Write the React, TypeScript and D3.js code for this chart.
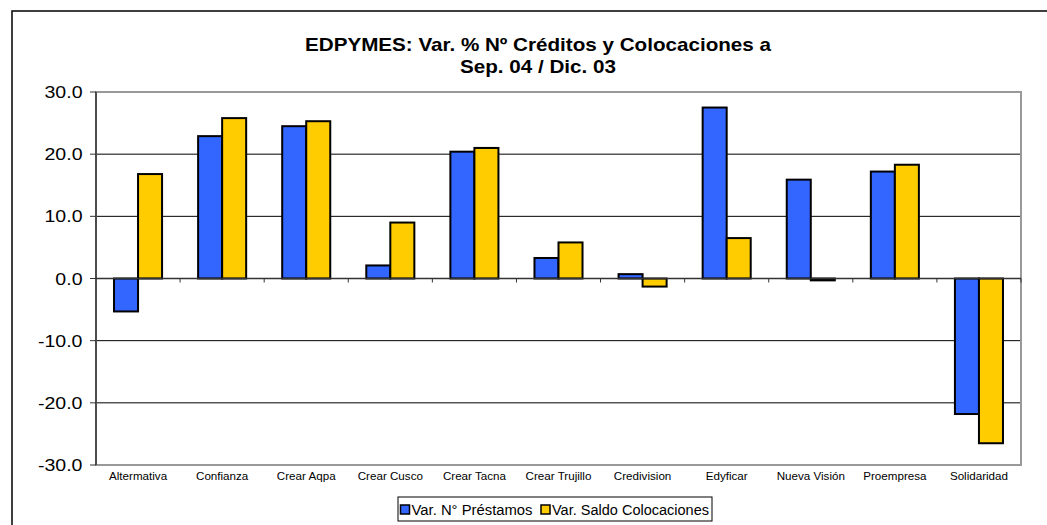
import React from "react";
import * as d3 from "d3";

const categories = ["Altermativa", "Confianza", "Crear Aqpa", "Crear Cusco", "Crear Tacna", "Crear Trujillo", "Credivision", "Edyficar", "Nueva Visión", "Proempresa", "Solidaridad"];
const prestamos = [-5.3, 22.9, 24.5, 2.1, 20.4, 3.3, 0.7, 27.5, 15.9, 17.2, -21.8];
const colocaciones = [16.8, 25.8, 25.3, 9.0, 21.0, 5.8, -1.3, 6.5, -0.3, 18.3, -26.5];
const yTicks = [30, 20, 10, 0, -10, -20, -30];
const seriesNames = ["Var. N° Préstamos", "Var. Saldo Colocaciones"];
const seriesColors = ["#3366FF", "#FFCC00"];
const titleLines = ["EDPYMES: Var. % Nº Créditos y Colocaciones a", "Sep. 04 / Dic. 03"];

const W = 1047, H = 525;
const plot = { left: 96, right: 1021, top: 92, bottom: 465 };
const FONT = "'Liberation Sans', Arial, Helvetica, sans-serif";

export default function App() {
  const x = d3.scaleBand<string>().domain(categories).range([plot.left, plot.right]).paddingInner(0).paddingOuter(0);
  const y = d3.scaleLinear().domain([-30, 30]).range([plot.bottom, plot.top]);
  const bw = x.bandwidth();
  const barW = bw / 3.5;
  const series = [prestamos, colocaciones];
  const y0 = y(0);
  const titleW = [466, 156];
  const legendTextW = [121, 157];

  return (
    <svg width={W} height={H} style={{ position: "absolute", left: 0, top: 0, background: "#fff" }} fontFamily={FONT}>
      <rect x={0} y={0} width={W} height={H} fill="#fff" />
      <rect x={12} y={11} width={W + 20} height={H + 20} fill="none" stroke="#000" strokeWidth={1.5} />
      {titleLines.map((t, i) => (
        <text key={i} x={538 - titleW[i] / 2} y={51 + i * 22} textLength={titleW[i]} lengthAdjust="spacingAndGlyphs" fontWeight="bold" fontSize={18.5} fill="#000">{t}</text>
      ))}
      {/* gridlines */}
      {yTicks.filter(v => v !== 30 && v !== -30 && v !== 0).map(v => (
        <line key={v} x1={plot.left} x2={plot.right} y1={y(v)} y2={y(v)} stroke="#000" strokeWidth={1} />
      ))}
      {/* plot frame */}
      <rect x={plot.left} y={plot.top} width={plot.right - plot.left} height={plot.bottom - plot.top} fill="none" stroke="#999" strokeWidth={2} />
      {/* bars */}
      {categories.map((c, i) => (
        <g key={c}>
          {series.map((s, k) => {
            const v = s[i];
            const bx = (x(c) as number) + bw / 2 - barW + k * barW;
            const top = Math.min(y(v), y0);
            const h = Math.max(Math.abs(y(v) - y0), 1);
            return <rect key={k} x={bx} y={top} width={barW} height={h} fill={seriesColors[k]} stroke="#000" strokeWidth={2} />;
          })}
        </g>
      ))}
      {/* left axis */}
      <line x1={plot.left} x2={plot.left} y1={plot.top} y2={plot.bottom} stroke="#333" strokeWidth={1.5} />
      {yTicks.map(v => (
        <g key={v}>
          <line x1={plot.left - 6} x2={plot.left} y1={y(v)} y2={y(v)} stroke="#333" strokeWidth={1} />
          <text transform={`translate(82.5,${y(v) + 6}) scale(1.15,1)`} textAnchor="end" fontSize={17} fill="#000">{v.toFixed(1)}</text>
        </g>
      ))}
      {/* zero axis */}
      <line x1={plot.left} x2={plot.right} y1={y0} y2={y0} stroke="#333" strokeWidth={1.5} />
      {categories.map((c) => (
        <line key={c} x1={(x(c) as number) + bw} x2={(x(c) as number) + bw} y1={y0} y2={y0 + 4} stroke="#333" strokeWidth={1} />
      ))}
      {/* category labels */}
      {categories.map(c => (
        <text key={c} transform={`translate(${(x(c) as number) + bw / 2},480) scale(1.14,1)`} textAnchor="middle" fontSize={10.2} fill="#000">{c}</text>
      ))}
      {/* legend */}
      <rect x={398} y={497} width={314} height={24} fill="#fff" stroke="#000" strokeWidth={1} />
      {seriesNames.map((n, k) => {
        const lx = k === 0 ? 400.5 : 541;
        return (
          <g key={n}>
            <rect x={lx} y={505} width={9} height={9} fill={seriesColors[k]} stroke="#000" strokeWidth={1.5} />
            <text x={lx + 11} y={514.5} textLength={legendTextW[k]} lengthAdjust="spacingAndGlyphs" fontSize={14} fill="#000">{n}</text>
          </g>
        );
      })}
    </svg>
  );
}
